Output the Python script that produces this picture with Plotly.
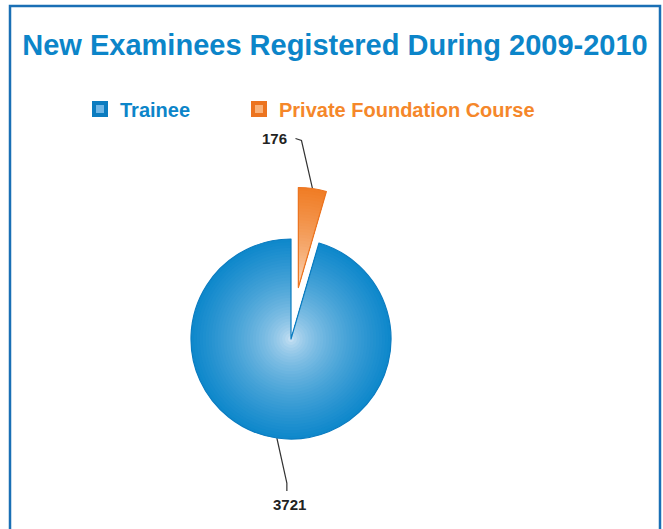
import math
import plotly.graph_objects as go

# ---- data ----
labels = ["Trainee", "Private Foundation Course"]
values = [3721, 176]
value_labels = ["3721", "176"]
title_text = "New Examinees Registered During 2009-2010"

# ---- style / geometry ----
W, H = 663, 529
CX, CY, R = 291, 339, 100
PULLS = [0.0, 0.52]
EDGE = [(13, 135, 203), (240, 124, 36)]
CENTER = [(212, 231, 246), (253, 232, 214)]
OUTLINE = ["#0b7cc0", "#ec7420"]
LEGEND_FILL = ["#6fb6e6", "#f9b27a"]
TEXT_COL = ["#0c85c9", "#f5872a"]
LEGEND_X = [80, 239]
FONT = "Liberation Sans"
N_RINGS = 34
TRANSPARENT = "rgba(0,0,0,0)"

total = float(sum(values))
fracs = [v / total for v in values]

# rotate so that the last (small) slice starts at 12 o'clock, clockwise
ROTATION = 360.0 * fracs[-1]

# mid angles measured clockwise from 12 o'clock
mids = []
start = ROTATION
for f in fracs:
    mids.append(math.radians(start + f * 180.0))
    start += f * 360.0


def pt(cx, cy, r, ang):
    return cx + r * math.sin(ang), cy - r * math.cos(ang)


centers = [pt(CX, CY, PULLS[i] * R, mids[i]) for i in range(len(values))]


def dom(cx, cy, r):
    return dict(x=[(cx - r) / W, (cx + r) / W], y=[1 - (cy + r) / H, 1 - (cy - r) / H])


def mix(a, b, w):
    return "rgb(%d,%d,%d)" % tuple(round(a[j] + (b[j] - a[j]) * w) for j in range(3))


common = dict(labels=labels, values=values, sort=False, direction="clockwise",
              rotation=ROTATION, textinfo="none", hoverinfo="skip")

fig = go.Figure()

# legend-only pies (one per legend so each entry can be placed), hidden under the rings
for i in range(len(labels)):
    fig.add_trace(go.Pie(
        labels=['<span style="color:%s">%s</span>' % (TEXT_COL[i], labels[i])],
        values=[values[i]], sort=False, textinfo="none", hoverinfo="skip", showlegend=True,
        legend="legend" if i == 0 else "legend%d" % (i + 1),
        domain=dom(CX, CY, 0.5),
        marker=dict(colors=[LEGEND_FILL[i]], line=dict(color=OUTLINE[i], width=4))))

# gradient rings, one set per slice, concentric on each slice's own centre
for i in range(len(values)):
    cx, cy = centers[i]
    for k in range(N_RINGS):
        r = R * (N_RINGS - k) / N_RINGS
        t = (N_RINGS - k - 0.5) / N_RINGS
        col = mix(CENTER[i], EDGE[i], t ** 0.6)
        colors = [TRANSPARENT] * len(values)
        colors[i] = col
        fig.add_trace(go.Pie(**common, showlegend=False, domain=dom(cx, cy, r),
                             marker=dict(colors=colors, line=dict(width=0))))

# outlines
for i in range(len(values)):
    cx, cy = centers[i]
    lc = [TRANSPARENT] * len(values)
    lc[i] = OUTLINE[i]
    fig.add_trace(go.Pie(**common, showlegend=False, domain=dom(cx, cy, R),
                         marker=dict(colors=[TRANSPARENT] * len(values), line=dict(color=lc, width=1.2))))

# leader lines + value labels
leader_offsets = [[(10, 45), (10, 53)], [(-11, -48), (-17, -50)]]
label_offsets = [(13, 66), (-23, -50)]
label_anchor = ["center", "right"]
annotations = []
for i in range(len(values)):
    cx, cy = centers[i]
    ex, ey = pt(cx, cy, R, mids[i])
    xs = [ex] + [ex + dx for dx, dy in leader_offsets[i]]
    ys = [ey] + [ey + dy for dx, dy in leader_offsets[i]]
    fig.add_trace(go.Scatter(x=xs, y=ys, mode="lines", line=dict(color="#333333", width=1.2),
                             hoverinfo="skip", showlegend=False))
    annotations.append(dict(x=ex + label_offsets[i][0], y=ey + label_offsets[i][1], xref="x", yref="y",
                            text=value_labels[i], showarrow=False, xanchor=label_anchor[i], yanchor="middle",
                            font=dict(family=FONT, size=15, color="#222222", weight="bold")))

legend_common = dict(orientation="h", xanchor="left", y=1 - 109 / H, yanchor="middle",
                     font=dict(family=FONT, size=20, weight="bold"), bgcolor="rgba(0,0,0,0)")

fig.update_layout(
    width=W, height=H, margin=dict(l=0, r=0, t=0, b=0),
    paper_bgcolor="white", plot_bgcolor="white",
    xaxis=dict(range=[0, W], visible=False, fixedrange=True, domain=[0, 1]),
    yaxis=dict(range=[H, 0], visible=False, fixedrange=True, domain=[0, 1]),
    title=dict(text=title_text, x=335 / W, xanchor="center", y=1 - 45 / H, yanchor="middle",
               xref="paper", yref="container",
               font=dict(family=FONT, size=29, color="#0c85c9", weight="bold")),
    legend=dict(legend_common, x=LEGEND_X[0] / W),
    legend2=dict(legend_common, x=LEGEND_X[1] / W),
    annotations=annotations,
    shapes=[dict(type="rect", xref="x", yref="y", x0=10, x1=660, y0=6, y1=545,
                 line=dict(color="#1a6fb5", width=2.5), fillcolor=TRANSPARENT, layer="above")],
)

fig.write_html("out.html", config={"displayModeBar": False},
               post_script="document.body.style.margin='0';")
